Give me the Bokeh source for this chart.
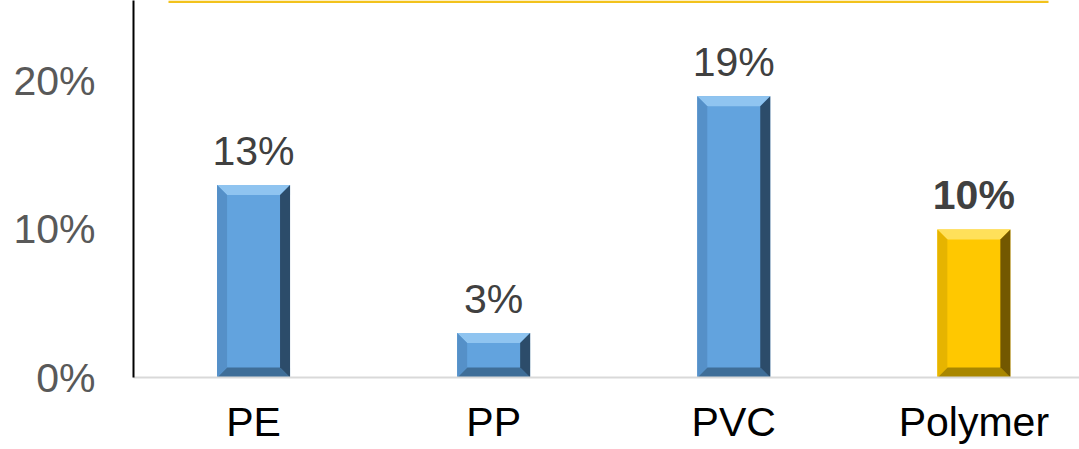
from bokeh.plotting import figure
from bokeh.models import ColumnDataSource, LabelSet, Range1d, FixedTicker, NumeralTickFormatter, BoxAnnotation
from bokeh.core.properties import value
from bokeh.embed import file_html
from bokeh.resources import INLINE

categories = ["PE", "PP", "PVC", "Polymer"]
values = [0.13, 0.03, 0.19, 0.10]
labels = ["13%", "3%", "19%", "10%"]
y_ticks = [0.0, 0.1, 0.2]

W, H = 1079, 449
LEFT, BOTTOM, TOP, RIGHT = 133, 72, 0, 0
x_start, x_end = -0.5, 3.44
y_start, y_end = 0.0, 0.2547

p = figure(width=W, height=H, output_backend="svg", toolbar_location=None,
           x_range=Range1d(x_start, x_end), y_range=Range1d(y_start, y_end),
           min_border_left=LEFT, min_border_bottom=BOTTOM, min_border_top=TOP,
           min_border_right=RIGHT)
p.outline_line_color = None
p.grid.visible = False
p.background_fill_color = "white"
p.border_fill_color = "white"

px_per_x = (W - LEFT - RIGHT) / (x_end - x_start)
px_per_y = (H - BOTTOM - TOP) / (y_end - y_start)
bw = 0.304
bev = 10
dx = bev / px_per_x
dy = bev / px_per_y

palettes = {
    "blue": dict(main="#62A3DE", top="#8FC4F0", bottom="#3F6E98", left="#5590C8", right="#2C4C6A"),
    "gold": dict(main="#FFC800", top="#FFE05A", bottom="#A98700", left="#E6B400", right="#735800"),
}

for i, v in enumerate(values):
    pal = palettes["gold"] if categories[i] == "Polymer" else palettes["blue"]
    x0, x1 = i - bw / 2, i + bw / 2
    y0, y1 = 0.0, v
    p.quad(left=[x0], right=[x1], bottom=[y0], top=[y1], fill_color=pal["main"], line_color=None)
    polys = [
        ([x0, x1, x1 - dx, x0 + dx], [y1, y1, y1 - dy, y1 - dy], pal["top"]),
        ([x0, x1, x1 - dx, x0 + dx], [y0, y0, y0 + dy, y0 + dy], pal["bottom"]),
        ([x0, x0 + dx, x0 + dx, x0], [y0, y0 + dy, y1 - dy, y1], pal["left"]),
        ([x1, x1 - dx, x1 - dx, x1], [y0, y0 + dy, y1 - dy, y1], pal["right"]),
    ]
    for px_, py_, c in polys:
        p.patch(px_, py_, fill_color=c, line_color=None)

xpos = list(range(len(categories)))
src_n = ColumnDataSource(dict(x=xpos[:3], y=values[:3], t=labels[:3]))
src_b = ColumnDataSource(dict(x=xpos[3:], y=values[3:], t=labels[3:]))
p.add_layout(LabelSet(x="x", y="y", text="t", source=src_n, y_offset=20,
                      text_align="center", text_baseline="alphabetic",
                      text_font=value("Liberation Sans"), text_font_size=value("41px"),
                      text_color="#404040"))
p.add_layout(LabelSet(x="x", y="y", text="t", source=src_b, y_offset=20,
                      text_align="center", text_baseline="alphabetic",
                      text_font=value("Liberation Sans"), text_font_size=value("41px"),
                      text_font_style="bold", text_color="#404040"))

# decorative yellow strip at top
p.add_layout(BoxAnnotation(left=x_start + 35 / px_per_x, right=x_start + 915 / px_per_x,
                           top=y_end, bottom=y_end - 2.5 / px_per_y,
                           fill_color="#F2C21C", fill_alpha=1, line_color=None))

p.xaxis.ticker = FixedTicker(ticks=xpos)
p.xaxis.major_label_overrides = {i: c for i, c in enumerate(categories)}
p.xaxis.major_tick_line_color = None
p.xaxis.major_tick_out = 0
p.xaxis.major_tick_in = 0
p.xaxis.minor_tick_line_color = None
p.xaxis.axis_line_color = "#D9D9D9"
p.xaxis.axis_line_width = 2
p.xaxis.major_label_text_font = "Liberation Sans"
p.xaxis.major_label_text_font_size = "41px"
p.xaxis.major_label_text_color = "#000000"
p.xaxis.major_label_standoff = 21

p.yaxis.ticker = FixedTicker(ticks=y_ticks)
p.yaxis.formatter = NumeralTickFormatter(format="0%")
p.yaxis.major_tick_line_color = None
p.yaxis.major_tick_out = 0
p.yaxis.major_tick_in = 0
p.yaxis.minor_tick_line_color = None
p.yaxis.axis_line_color = "#000000"
p.yaxis.axis_line_width = 2
p.yaxis.major_label_text_font = "Liberation Sans"
p.yaxis.major_label_text_font_size = "41px"
p.yaxis.major_label_text_color = "#595959"
p.yaxis.major_label_standoff = 38

open("out.html", "w").write(file_html(p, INLINE))
